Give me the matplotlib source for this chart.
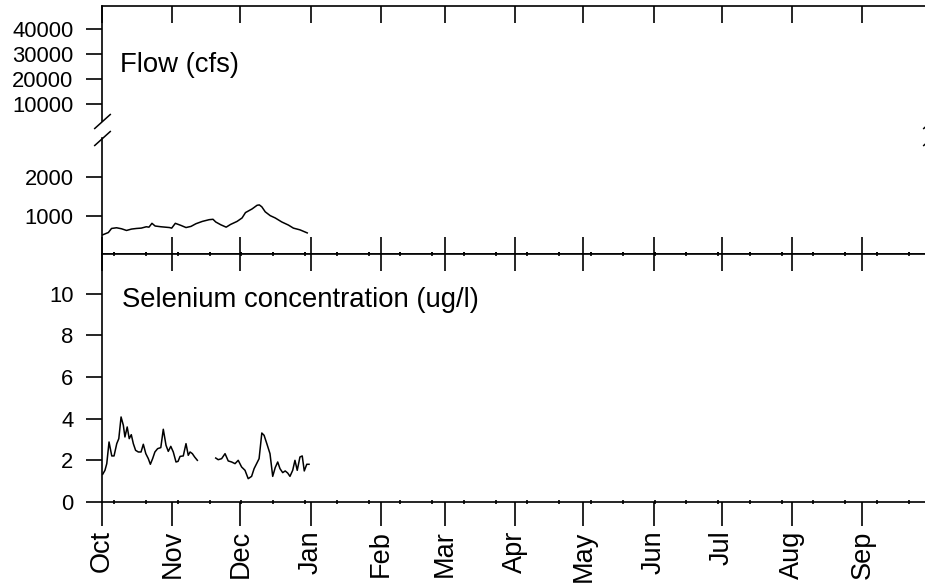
import numpy as np
import matplotlib
matplotlib.use("Agg")
import matplotlib.pyplot as plt
from matplotlib.ticker import FixedLocator

plt.rcParams['font.family'] = ['Liberation Sans', 'DejaVu Sans']

# ---- data (day offset from Oct 1 of the water year) ----
flow_days = [0.3, 2.8, 4.2, 6.4, 8.6, 10.8, 13.0, 15.2, 17.3, 19.5, 20.7, 22.0, 23.4,
             26.0, 29.7, 30.7, 32.3, 34.8, 37.0, 39.2, 41.4, 44.2, 47.2, 48.9, 50.1,
             52.3, 54.7, 56.6, 59.5, 61.7, 63.2, 66.1, 68.3, 69.3, 70.4, 71.9, 74.1,
             76.3, 79.2, 82.1, 84.3, 87.2, 90.4]
flow_cfs = [500, 560, 666, 684, 658, 614, 650, 666, 675, 710, 700, 800, 730,
            710, 690, 675, 800, 745, 690, 720, 790, 850, 895, 905, 835,
            763, 700, 770, 850, 940, 1080, 1175, 1270, 1280, 1230, 1100, 1000,
            940, 835, 755, 675, 630, 550]

se_days = [0.3, 1.3, 2.1, 3.1, 4.3, 5.3, 6.5, 7.4, 8.4, 9.4, 10.1, 11.1, 12.0, 12.9,
           13.8, 14.8, 16.0, 17.2, 18.2, 19.3, 20.4, 21.3, 22.3, 23.3, 24.5, 25.9,
           27.0, 28.2, 29.2, 30.3, 31.4, 32.6, 33.5, 34.4, 35.8, 37.0, 38.0, 38.8,
           39.8, 40.8, 42.0, 46.0,
           50.1, 51.2, 52.7, 54.2, 55.6, 57.1, 58.6, 60.0, 61.5, 63.0, 64.4, 65.9,
           67.0, 68.1, 69.2, 70.4, 71.4, 72.6, 74.0, 75.2, 76.3, 77.4, 78.4, 79.6,
           80.7, 81.8, 82.8, 84.0, 85.0, 86.0, 87.2, 88.2, 89.1, 90.2, 91.2]
se_ugl = [1.33, 1.52, 1.84, 2.88, 2.21, 2.21, 2.80, 3.04, 4.08, 3.68, 3.12, 3.60, 3.04, 3.23,
          2.80, 2.48, 2.40, 2.40, 2.77, 2.32, 2.08, 1.81, 2.08, 2.40, 2.56, 2.61,
          3.49, 2.72, 2.43, 2.67, 2.40, 1.92, 1.95, 2.19, 2.21, 2.80, 2.24, 2.40,
          2.32, 2.16, 2.00, np.nan,
          2.11, 2.03, 2.08, 2.32, 1.97, 1.92, 1.84, 2.00, 1.68, 1.52, 1.12, 1.23,
          1.60, 1.84, 2.08, 3.31, 3.20, 2.80, 2.32, 1.23, 1.65, 1.92, 1.60, 1.41,
          1.49, 1.39, 1.23, 1.52, 2.00, 1.52, 2.16, 2.21, 1.49, 1.81, 1.81]

month_labels = ['Oct', 'Nov', 'Dec', 'Jan', 'Feb', 'Mar', 'Apr', 'May', 'Jun',
                'Jul', 'Aug', 'Sep']
month_start_days = [0, 31, 61, 92, 123, 151, 182, 212, 243, 273, 304, 335]
minor_days = list(np.arange(5.4, 365, 14))

flow_upper_ticks = [10000, 20000, 30000, 40000]
flow_lower_ticks = [1000, 2000]
se_ticks = [0, 2, 4, 6, 8, 10]

W, H = 925, 585
fig = plt.figure(figsize=(W / 100, H / 100), dpi=100)

left = 102 / W
width = 828.6 / W

def pos(top_px, bot_px):
    return [left, (H - bot_px) / H, width, (bot_px - top_px) / H]

ax_up = fig.add_axes(pos(6, 120.5))
ax_lo = fig.add_axes(pos(138.3, 254))
ax_se = fig.add_axes(pos(254, 502))

lw_axis = 1.2
tick_fs = 15.8
month_fs = 19.5
label_fs = 19.8

for ax in (ax_up, ax_lo, ax_se):
    ax.set_xlim(0, 365)
    ax.spines['right'].set_visible(False)
    for s in ax.spines.values():
        s.set_linewidth(lw_axis)
    ax.xaxis.set_major_locator(FixedLocator(month_start_days))
    ax.tick_params(axis='y', which='major', direction='out', length=11.5,
                   width=1.2, labelsize=tick_fs, pad=9, right=False)

# upper flow
ax_up.plot(flow_days, flow_cfs, color='black', lw=1.1)
ax_up.set_ylim(3520, 49320)
ax_up.set_yticks(flow_upper_ticks)
ax_up.spines['bottom'].set_visible(False)
ax_up.tick_params(axis='x', which='major', top=True, bottom=False, direction='in',
                  length=12.2, width=1.2, labeltop=False, labelbottom=False)
ax_up.text(0.022, 0.426, 'Flow (cfs)', transform=ax_up.transAxes, fontsize=label_fs,
           va='baseline', ha='left')

# lower flow
ax_lo.plot(flow_days, flow_cfs, color='black', lw=1.1)
ax_lo.set_ylim(0, 3017)
ax_lo.set_yticks(flow_lower_ticks)
ax_lo.spines['top'].set_visible(False)
ax_lo.xaxis.set_minor_locator(FixedLocator(minor_days))
ax_lo.tick_params(axis='x', which='major', top=False, bottom=True, direction='in',
                  length=12.2, width=1.2, labelbottom=False)
ax_lo.tick_params(axis='x', which='minor', top=False, bottom=True, direction='inout',
                  length=2.5, width=1.2)

# selenium
ax_se.plot(se_days, se_ugl, color='black', lw=1.1)
ax_se.set_ylim(0, 11.9)
ax_se.set_yticks(se_ticks)
ax_se.xaxis.set_minor_locator(FixedLocator(minor_days))
ax_se.set_xticklabels(month_labels, rotation=90, fontsize=month_fs)
ax_se.tick_params(axis='x', which='major', top=True, bottom=True, direction='out',
                  length=17.3, width=1.2, pad=3)
ax_se.tick_params(axis='x', which='minor', top=True, bottom=True, direction='inout',
                  length=2.5, width=1.2)
# top ticks of selenium pointing inward
for t in ax_se.xaxis.get_major_ticks():
    t.tick2line.set_marker(matplotlib.lines.TICKDOWN)
    t.tick2line.set_markersize(12.2)
ax_se.text(0.024, 0.7875, 'Selenium concentration (ug/l)', transform=ax_se.transAxes,
           fontsize=label_fs, va='baseline', ha='left')

# break marks
kw = dict(marker=[(-1, -0.9), (1, 0.9)], markersize=12, linestyle='none',
          color='k', mec='k', mew=1.1, clip_on=False)
ax_up.plot([0, 1], [0, 0], transform=ax_up.transAxes, **kw)
ax_lo.plot([0, 1], [1, 1], transform=ax_lo.transAxes, **kw)

fig.savefig('out.png', dpi=100)
